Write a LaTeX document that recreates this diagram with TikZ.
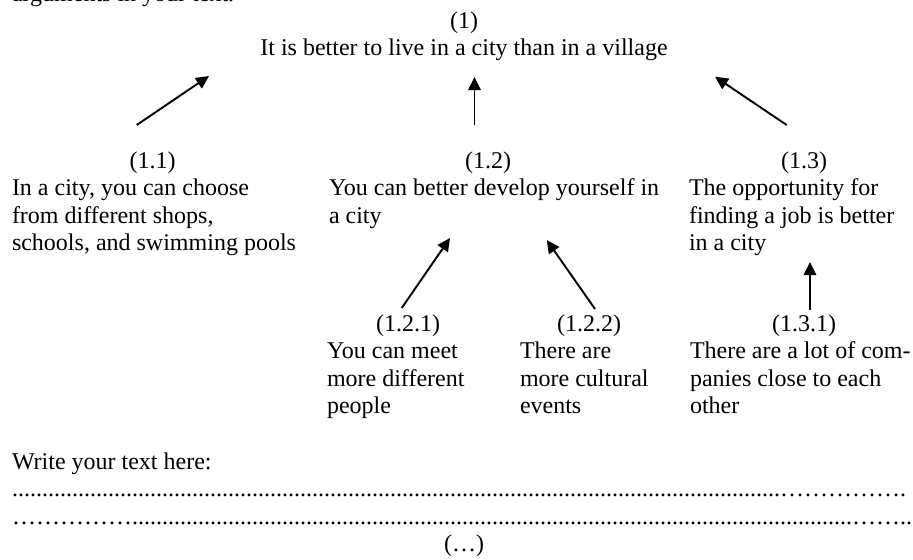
\documentclass[tikz,border=0pt]{standalone}
\usepackage{fontspec}
\setmainfont{Liberation Serif}
\usetikzlibrary{arrows.meta}
\ExplSyntaxOn
\cs_new_eq:NN \Repl \prg_replicate:nn
\ExplSyntaxOff
\newcommand\fs{\fontsize{12pt}{13.8pt}\selectfont}
\newcommand\tstrut{\rule{0pt}{9pt}}
\begin{document}
\begin{tikzpicture}[x=0.5pt,y=-0.5pt,
  lbl/.style={inner sep=0pt, outer sep=0pt, font=\fs, anchor=base},
  body/.style={inner sep=0pt, outer sep=0pt, font=\fs, align=left, anchor=north west},
  txtline/.style={inner sep=0pt, outer sep=0pt, font=\fs, anchor=base west},
  arr/.style={line width=0.95pt, -{Triangle[length=6.5pt,width=6.2pt]}}]
\useasboundingbox (0,0) rectangle (913,559);
\clip (0,0) rectangle (913,559);

% cut-off line at the top
\node[txtline] (intro) at (12,1.5) {arguments in your text.};

% main claim
\node[lbl] (l1) at (464,28) {(1)};
\node[lbl] (b1) at (464,55.7) {It is better to live in a city than in a village};

% level 1
\node[lbl] (l11) at (152.5,168) {(1.1)};
\node[body] (b11) at (12,177.6) {\tstrut In a city, you can choose\\from different shops,\\schools, and swimming pools};
\node[lbl] (l12) at (488,168) {(1.2)};
\node[body] (b12) at (329,177.6) {\tstrut You can better develop yourself in\\a city};
\node[lbl] (l13) at (804,168) {(1.3)};
\node[body] (b13) at (689,177.6) {\tstrut The opportunity for\\finding a job is better\\in a city};

% level 2
\node[lbl] (l121) at (408,331) {(1.2.1)};
\node[body] (b121) at (327,340.6) {\tstrut You can meet\\more different\\people};
\node[lbl] (l122) at (589,331) {(1.2.2)};
\node[body] (b122) at (520,340.6) {\tstrut There are\\more cultural\\events};
\node[lbl] (l131) at (804,331) {(1.3.1)};
\node[body] (b131) at (690,340.6) {\tstrut There are a lot of com-\\panies close to each\\other};

% arrows
\coordinate (a1s) at (136.7,125); \coordinate (a1e) at (209,76);
\coordinate (a2s) at (474.5,125); \coordinate (a2e) at (474.5,77);
\coordinate (a3s) at (786.7,125); \coordinate (a3e) at (715,76.7);
\coordinate (a4s) at (401.7,308); \coordinate (a4e) at (450,238);
\coordinate (a5s) at (595,309);   \coordinate (a5e) at (546.7,240);
\coordinate (a6s) at (810,310);   \coordinate (a6e) at (810,262);
\draw[arr] (a1s) -- (a1e);
\draw[arr] (a2s) -- (a2e);
\draw[arr] (a3s) -- (a3e);
\draw[arr] (a4s) -- (a4e);
\draw[arr] (a5s) -- (a5e);
\draw[arr] (a6s) -- (a6e);

% writing area
\node[txtline] (write) at (12,469) {Write your text here:};
\node[txtline] (dots1) at (12,496.6) {\Repl{128}{.}\Repl{5}{…}.};
\node[txtline] (dots2) at (12,524.2) {\Repl{5}{…}\Repl{120}{.}\Repl{2}{…}..};
\node[lbl] (etc) at (464,551.8) {(…)};
\end{tikzpicture}
\end{document}
